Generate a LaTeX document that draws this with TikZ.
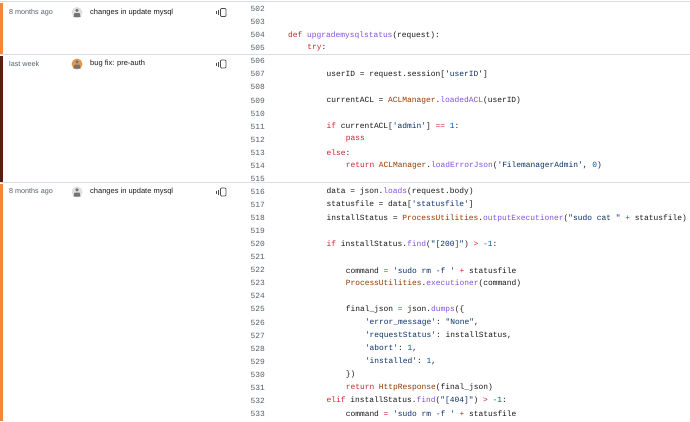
\documentclass[tikz,border=0pt]{standalone}
\usepackage{fontspec}
\setmainfont{Liberation Sans}
\setmonofont{Liberation Mono}
\definecolor{kw}{HTML}{CF222E}
\definecolor{fn}{HTML}{8250DF}
\definecolor{cls}{HTML}{953800}
\definecolor{str}{HTML}{0A3069}
\definecolor{num}{HTML}{0550AE}
\definecolor{lno}{HTML}{57606A}
\definecolor{sep}{HTML}{D8DEE4}
\definecolor{oldbar}{HTML}{F0883E}
\definecolor{newbar}{HTML}{5A1E0E}
\newcommand{\Kw}[1]{\textcolor{kw}{#1}}
\newcommand{\Fn}[1]{\textcolor{fn}{#1}}
\newcommand{\Cl}[1]{\textcolor{cls}{#1}}
\newcommand{\Sx}[1]{\textcolor{str}{#1}}
\newcommand{\Nm}[1]{\textcolor{num}{#1}}
\tikzset{
  lnum/.style={anchor=east,font=\ttfamily\fontsize{7.9}{9}\selectfont,text=lno,inner sep=0},
  code/.style={anchor=west,font=\ttfamily\fontsize{7.9}{9}\selectfont,text=black!90,inner sep=0},
  date/.style={anchor=west,font=\fontsize{7.2}{9}\selectfont,text=lno,inner sep=0},
  msg/.style={anchor=west,font=\fontsize{7.5}{9}\selectfont,text=black!90,inner sep=0},
  sepline/.style={draw=sep,line width=0.8pt},
}
\newcommand{\codeln}[3]{%
  \node[lnum] (n#1) at (265,{9+(#1-502)*13.06}) {#1};
  \node[code] (c#1) at ({288+#2*19.2},{9+(#1-502)*13.06}) {#3};}
\newcommand{\blame}[5]{% id, y, date, avatar color, message
  \node[date] (d#1) at (9,#2) {#3};
  \fill[#4] (77,#2) circle (5.5);
  \fill[black!55] (77,{#2-2.2}) circle (1.7);
  \fill[black!55] (73.5,{#2+4.5}) -- (80.5,{#2+4.5}) -- (79.5,{#2+0.5}) -- (74.5,{#2+0.5}) -- cycle;
  \node[msg] (m#1) at (90,#2) {#5};
  \draw[black!70,line width=0.6pt] (216,{#2-1.5}) -- (216,{#2+1.5}) (218.3,{#2-2.5}) -- (218.3,{#2+2.5});
  \draw[black!70,line width=0.7pt,rounded corners=0.8] (220.5,{#2-4}) rectangle (226,{#2+4});}
\begin{document}
\begin{tikzpicture}[x=1pt,y=-1pt]
\useasboundingbox (0,0) rectangle (690,421);
\fill[white] (0,0) rectangle (690,421);
\draw[sepline] (0,1.5) -- (690,1.5);
\draw[sepline] (0,54.5) -- (690,54.5);
\draw[sepline] (0,182.5) -- (690,182.5);
\fill[oldbar] (0,3) rectangle (3,53.5);
\fill[newbar] (0,55.5) rectangle (3,181.5);
\fill[oldbar] (0,183.5) rectangle (3,421);
\blame{a}{12.5}{8 months ago}{black!12}{changes in update mysql}
\blame{b}{64}{last week}{brown!60!orange!80}{bug fix: pre-auth}
\blame{c}{192}{8 months ago}{black!12}{changes in update mysql}
\codeln{502}{0}{}
\codeln{503}{0}{}
\codeln{504}{0}{\Kw{def} \Fn{upgrademysqlstatus}(request):}
\codeln{505}{1}{\Kw{try}:}
\codeln{506}{0}{}
\codeln{507}{2}{userID = request.session[\Sx{'userID'}]}
\codeln{508}{0}{}
\codeln{509}{2}{currentACL = \Cl{ACLManager}.\Fn{loadedACL}(userID)}
\codeln{510}{0}{}
\codeln{511}{2}{\Kw{if} currentACL[\Sx{'admin'}] \Kw{==} \Nm{1}:}
\codeln{512}{3}{\Kw{pass}}
\codeln{513}{2}{\Kw{else}:}
\codeln{514}{3}{\Kw{return} \Cl{ACLManager}.\Fn{loadErrorJson}(\Sx{'FilemanagerAdmin'}, \Nm{0})}
\codeln{515}{0}{}
\codeln{516}{2}{data = json.\Fn{loads}(request.body)}
\codeln{517}{2}{statusfile = data[\Sx{'statusfile'}]}
\codeln{518}{2}{installStatus = \Cl{ProcessUtilities}.\Fn{outputExecutioner}(\Sx{"sudo cat "} \Kw{+} statusfile)}
\codeln{519}{0}{}
\codeln{520}{2}{\Kw{if} installStatus.\Fn{find}(\Sx{"[200]"}) \Kw{>} \Nm{-1}:}
\codeln{521}{0}{}
\codeln{522}{3}{command \Kw{=} \Sx{'sudo rm -f '} \Kw{+} statusfile}
\codeln{523}{3}{\Cl{ProcessUtilities}.\Fn{executioner}(command)}
\codeln{524}{0}{}
\codeln{525}{3}{final\_json \Kw{=} json.\Fn{dumps}(\{}
\codeln{526}{4}{\Sx{'error\_message'}: \Sx{"None"},}
\codeln{527}{4}{\Sx{'requestStatus'}: installStatus,}
\codeln{528}{4}{\Sx{'abort'}: \Nm{1},}
\codeln{529}{4}{\Sx{'installed'}: \Nm{1},}
\codeln{530}{3}{\})}
\codeln{531}{3}{\Kw{return} \Cl{HttpResponse}(final\_json)}
\codeln{532}{2}{\Kw{elif} installStatus.\Fn{find}(\Sx{"[404]"}) \Kw{>} \Nm{-1}:}
\codeln{533}{3}{command \Kw{=} \Sx{'sudo rm -f '} \Kw{+} statusfile}
\end{tikzpicture}
\end{document}
